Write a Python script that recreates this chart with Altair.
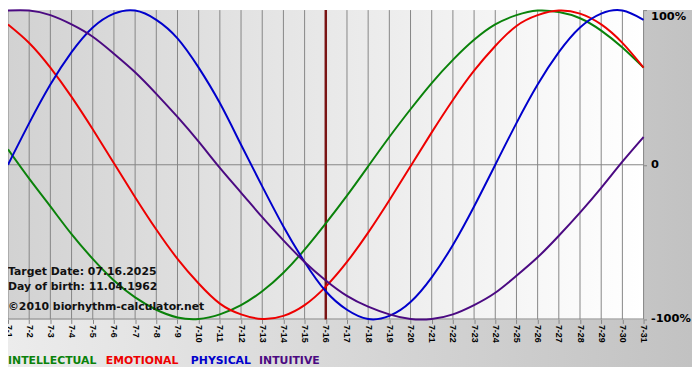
import altair as alt
import pandas as pd

# ---------------- data ----------------
dates = ["7-1", "7-2", "7-3", "7-4", "7-5", "7-6", "7-7", "7-8", "7-9", "7-10",
         "7-11", "7-12", "7-13", "7-14", "7-15", "7-16", "7-17", "7-18", "7-19", "7-20",
         "7-21", "7-22", "7-23", "7-24", "7-25", "7-26", "7-27", "7-28", "7-29", "7-30", "7-31"]

series = ["INTELLECTUAL", "EMOTIONAL", "PHYSICAL", "INTUITIVE"]
colors = ["#0a820a", "#ee0000", "#0000cc", "#4b0a82"]

intellectual = [0.10, -0.09, -0.27, -0.45, -0.61, -0.75, -0.86, -0.94, -0.99, -1.00,
                -0.97, -0.91, -0.82, -0.70, -0.55, -0.38, -0.20, -0.01, 0.18, 0.36,
                0.53, 0.68, 0.81, 0.91, 0.97, 1.00, 0.99, 0.95, 0.87, 0.76, 0.63]
emotional = [0.91, 0.79, 0.63, 0.44, 0.23, 0.01, -0.21, -0.42, -0.61, -0.77,
             -0.90, -0.97, -1.00, -0.98, -0.91, -0.79, -0.63, -0.44, -0.23, -0.01,
             0.21, 0.42, 0.61, 0.77, 0.90, 0.97, 1.00, 0.98, 0.91, 0.79, 0.63]
physical = [0.00, 0.27, 0.52, 0.73, 0.89, 0.98, 1.00, 0.94, 0.82, 0.63,
            0.40, 0.13, -0.14, -0.40, -0.63, -0.82, -0.94, -1.00, -0.98, -0.89,
            -0.73, -0.52, -0.27, 0.00, 0.27, 0.52, 0.73, 0.89, 0.98, 1.00, 0.94]
intuitive = [1.00, 1.00, 0.97, 0.91, 0.83, 0.72, 0.60, 0.46, 0.31, 0.15,
             -0.02, -0.18, -0.34, -0.49, -0.63, -0.75, -0.85, -0.92, -0.97, -1.00,
             -1.00, -0.97, -0.91, -0.83, -0.72, -0.60, -0.46, -0.31, -0.15, 0.02, 0.18]

target_date = "7-16"
y_ticks = [1, 0, -1]
y_tick_labels = ["100%", "0", "-100%"]
h_lines = [0, -1]
notes = ["Target Date: 07.16.2025", "Day of birth: 11.04.1962", "\u00a92010 biorhythm-calculator.net"]

# ---------------- layout ----------------
W, H = 643, 313
TOTAL_W, TOTAL_H = 692, 361
GRID = "#868686"

rows = []
for name, vals in zip(series, [intellectual, emotional, physical, intuitive]):
    for i, (d, v) in enumerate(zip(dates, vals)):
        rows.append({"series": name, "date": d, "day": i + 1, "value": v})
df = pd.DataFrame(rows)
df_dates = pd.DataFrame({"date": dates})
df_h = pd.DataFrame({"lvl": h_lines})
df_target = pd.DataFrame({"date": [target_date]})

label_expr = " : ".join(
    f"datum.value == {v} ? '{t}'" for v, t in zip(y_ticks[:-1], y_tick_labels[:-1])
) + f" : '{y_tick_labels[-1]}'"

x_enc = alt.X(
    "date:O",
    sort=dates,
    scale=alt.Scale(type="point", domain=dates, padding=0),
    axis=alt.Axis(
        title=None, orient="bottom", labelAngle=90, labelAlign="left",
        labelBaseline="middle", labelFont="Liberation Sans", labelFontSize=9,
        labelFontWeight="bold", labelColor="#000000", ticks=True, tickSize=4,
        tickColor=GRID, domain=False, grid=False, labelPadding=1, zindex=1,
        labelOverlap=False, labelBound=False,
    ),
)
y_scale = alt.Scale(domain=[-1.003, 1.003], nice=False, zero=False)
y_axis = alt.Axis(
    title=None, orient="right", values=y_ticks, labelExpr=label_expr,
    labelFont="DejaVu Sans", labelFontSize=11.5, labelFontWeight="bold",
    labelColor="#000000", tickSize=3, tickColor=GRID, domain=False, grid=False,
    labelPadding=4, zindex=1,
    labelBaseline={"condition": {"test": "datum.value > 0.5", "value": "top"}, "value": "middle"},
)

outer_grad = alt.Gradient(
    gradient="linear", x1=0, x2=1, y1=0, y2=0,
    stops=[alt.GradientStop(color="#ececec", offset=0),
           alt.GradientStop(color="#c2c2c2", offset=1)],
)
plot_grad = alt.Gradient(
    gradient="linear", x1=0, x2=1, y1=0, y2=0,
    stops=[alt.GradientStop(color="#d2d2d2", offset=0),
           alt.GradientStop(color="#ffffff", offset=1)],
)

one = alt.Data(values=[{}])

bg_outer = alt.Chart(one).mark_rect(fill=outer_grad).encode(
    x=alt.value(0), x2=alt.value(TOTAL_W), y=alt.value(0), y2=alt.value(TOTAL_H)
)
bg_plot = alt.Chart(one).mark_rect(fill=plot_grad).encode(
    x=alt.value(0), x2=alt.value(W), y=alt.value(0), y2=alt.value(H)
)

vgrid = alt.Chart(df_dates).mark_rule(color=GRID, strokeWidth=1).encode(
    x=x_enc, y=alt.value(0), y2=alt.value(H)
)
hgrid = alt.Chart(df_h).mark_rule(color=GRID, strokeWidth=1).encode(
    y=alt.Y("lvl:Q", scale=y_scale, axis=y_axis), x=alt.value(0), x2=alt.value(W)
)
target = alt.Chart(df_target).mark_rule(color="#7a1414", strokeWidth=2.5).encode(
    x=x_enc, y=alt.value(0), y2=alt.value(H)
)

lines = alt.Chart(df).mark_line(strokeWidth=2, interpolate="natural").encode(
    x=x_enc,
    y=alt.Y("value:Q", scale=y_scale, axis=y_axis),
    color=alt.Color("series:N", scale=alt.Scale(domain=series, range=colors), legend=None),
    order=alt.Order("day:Q"),
)

note_baselines = [268, 283, 303]
note_layers = [
    alt.Chart(one).mark_text(
        align="left", baseline="alphabetic", font="DejaVu Sans", fontSize=11,
        fontWeight="bold", color="#111111",
    ).encode(text=alt.value(t), x=alt.value(0), y=alt.value(yb))
    for t, yb in zip(notes, note_baselines)
]

legend_x = [0, 99, 185, 254]
legend_layers = [
    alt.Chart(one).mark_text(
        align="left", baseline="alphabetic", font="DejaVu Sans", fontSize=11,
        fontWeight="bold", color=c,
    ).encode(text=alt.value(s), x=alt.value(lx), y=alt.value(358))
    for s, c, lx in zip(series, colors, legend_x)
]

chart = alt.layer(
    bg_outer, bg_plot, vgrid, hgrid, target, lines, *note_layers, *legend_layers
).properties(
    width=W, height=H,
    autosize=alt.AutoSizeParams(type="none"),
    padding={"left": 0, "top": 0, "right": TOTAL_W - W, "bottom": TOTAL_H - H},
    background="white",
).configure_view(stroke=None)

chart.save("out.html", embed_options={"renderer": "svg", "actions": False})
